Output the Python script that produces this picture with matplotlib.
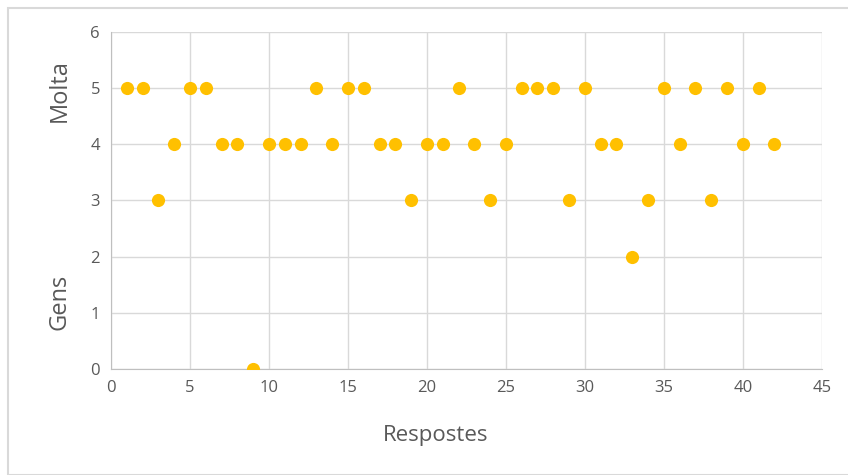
import matplotlib.pyplot as plt
from matplotlib.patches import Rectangle

plt.rcParams['font.family'] = ['Open Sans', 'DejaVu Sans']

# responses (1..42) and their score
respostes = list(range(1, 43))
valors = [5, 5, 3, 4, 5, 5, 4, 4, 0, 4,
          4, 4, 5, 4, 5, 5, 4, 4, 3, 4,
          4, 5, 4, 3, 4, 5, 5, 5, 3, 5,
          4, 4, 2, 3, 5, 4, 5, 3, 5, 4,
          5, 4]
xticks = [0, 5, 10, 15, 20, 25, 30, 35, 40, 45]
yticks = [0, 1, 2, 3, 4, 5, 6]

fig = plt.figure(figsize=(8.48, 4.75), dpi=100)
ax = fig.add_axes([0.131, 0.223, 0.838, 0.71])

ax.scatter(respostes, valors, s=90, color='#FFC000', zorder=3, linewidths=0)

ax.set_xlim(0, 45)
ax.set_ylim(0, 6)
ax.set_xticks(xticks)
ax.set_yticks(yticks)
ax.grid(True, color='#d9d9d9', linewidth=1)
ax.set_axisbelow(True)
for s in ['top', 'right']:
    ax.spines[s].set_visible(False)
for s in ['left', 'bottom']:
    ax.spines[s].set_color('#bfbfbf')
ax.tick_params(length=0, labelsize=12, labelcolor='#595959', pad=8)
ax.set_clip_on(False)

fig.text(0.514, 0.083, 'Respostes', fontsize=16, color='#595959', ha='center', va='center')
fig.text(0.070, 0.81, 'Molta', fontsize=17, color='#595959', rotation=90, ha='center', va='center')
fig.text(0.070, 0.365, 'Gens', fontsize=17, color='#595959', rotation=90, ha='center', va='center')

# chart border
fig.patches.append(Rectangle((0.009, 0.0), 0.995, 0.983, transform=fig.transFigure,
                             fill=False, edgecolor='#d9d9d9', linewidth=1.5))

fig.savefig('out.png', dpi=100)
